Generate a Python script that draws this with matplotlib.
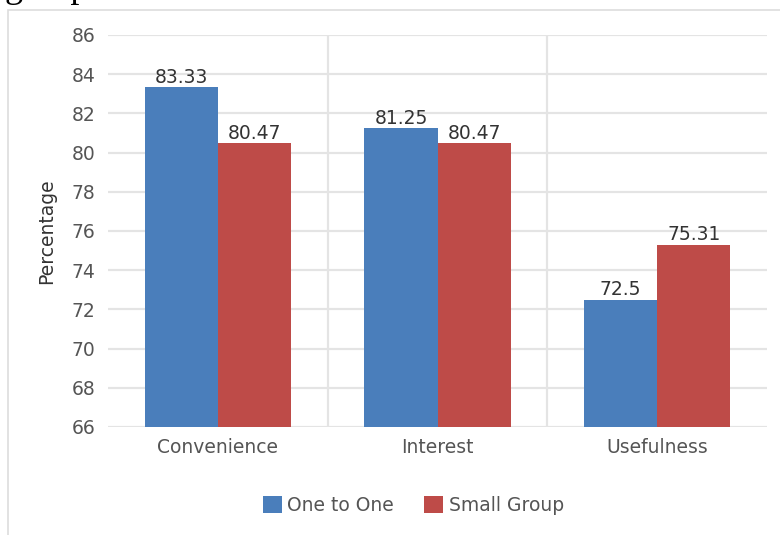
import matplotlib.pyplot as plt
from matplotlib.patches import Rectangle
import numpy as np

categories = ['Convenience', 'Interest', 'Usefulness']
one_to_one = [83.33, 81.25, 72.5]
small_group = [80.47, 80.47, 75.31]
series_names = ['One to One', 'Small Group']
yticks = [66, 68, 70, 72, 74, 76, 78, 80, 82, 84, 86]

blue = '#4a7ebb'
red = '#be4b48'
text_grey = '#555555'
fs = 13.5

plt.rcParams['font.family'] = ['DejaVu Sans']

fig = plt.figure(figsize=(7.8, 5.35), dpi=100)
ax = fig.add_axes([0.1385, 0.2019, 0.845, 0.7327])

# thin border around the chart area, plus a clipped caption line above it
fig.patches.append(Rectangle((8 / 780, -0.01), 1.0, 1 - 10 / 535 + 0.01,
                             transform=fig.transFigure, fill=False,
                             edgecolor='#dddddd', linewidth=1.2))
fig.text(5 / 780, 1 + 3 / 535, 'group', family='Liberation Serif',
         fontsize=26, va='baseline', ha='left', color='black')

x = np.arange(len(categories))
w = 0.333

b1 = ax.bar(x - w / 2, one_to_one, width=w, bottom=0, color=blue, label=series_names[0], zorder=3)
b2 = ax.bar(x + w / 2, small_group, width=w, bottom=0, color=red, label=series_names[1], zorder=3)

for bars, vals in ((b1, one_to_one), (b2, small_group)):
    for bar, v in zip(bars, vals):
        ax.text(bar.get_x() + bar.get_width() / 2, v + 0.02, f'{v:g}',
                ha='center', va='bottom', fontsize=fs, color='#333333', zorder=4)

ax.set_ylim(66, 86)
ax.set_xlim(-0.5, len(categories) - 0.5)
ax.set_yticks(yticks)
ax.set_xticks(x)
ax.set_xticklabels(categories)
ax.tick_params(axis='both', length=0, labelsize=fs, labelcolor=text_grey)
ax.tick_params(axis='y', pad=9)
ax.tick_params(axis='x', pad=8)

ax.yaxis.grid(True, color='#e4e4e4', linewidth=1.6, zorder=0)
ax.vlines([0.5, 1.5], 66, 86, color='#e4e4e4', linewidth=1.6, zorder=0)
for s in ax.spines.values():
    s.set_visible(False)

ax.set_ylabel('Percentage', fontsize=fs, color='#333333', labelpad=11)

ax.legend(loc='center', bbox_to_anchor=(0.53, 0.056), bbox_transform=fig.transFigure,
          ncol=2, frameon=False, fontsize=fs, handlelength=1.0, handleheight=1.0,
          handletextpad=0.3, columnspacing=1.6, labelcolor=text_grey)

fig.savefig('out.png', dpi=100)
